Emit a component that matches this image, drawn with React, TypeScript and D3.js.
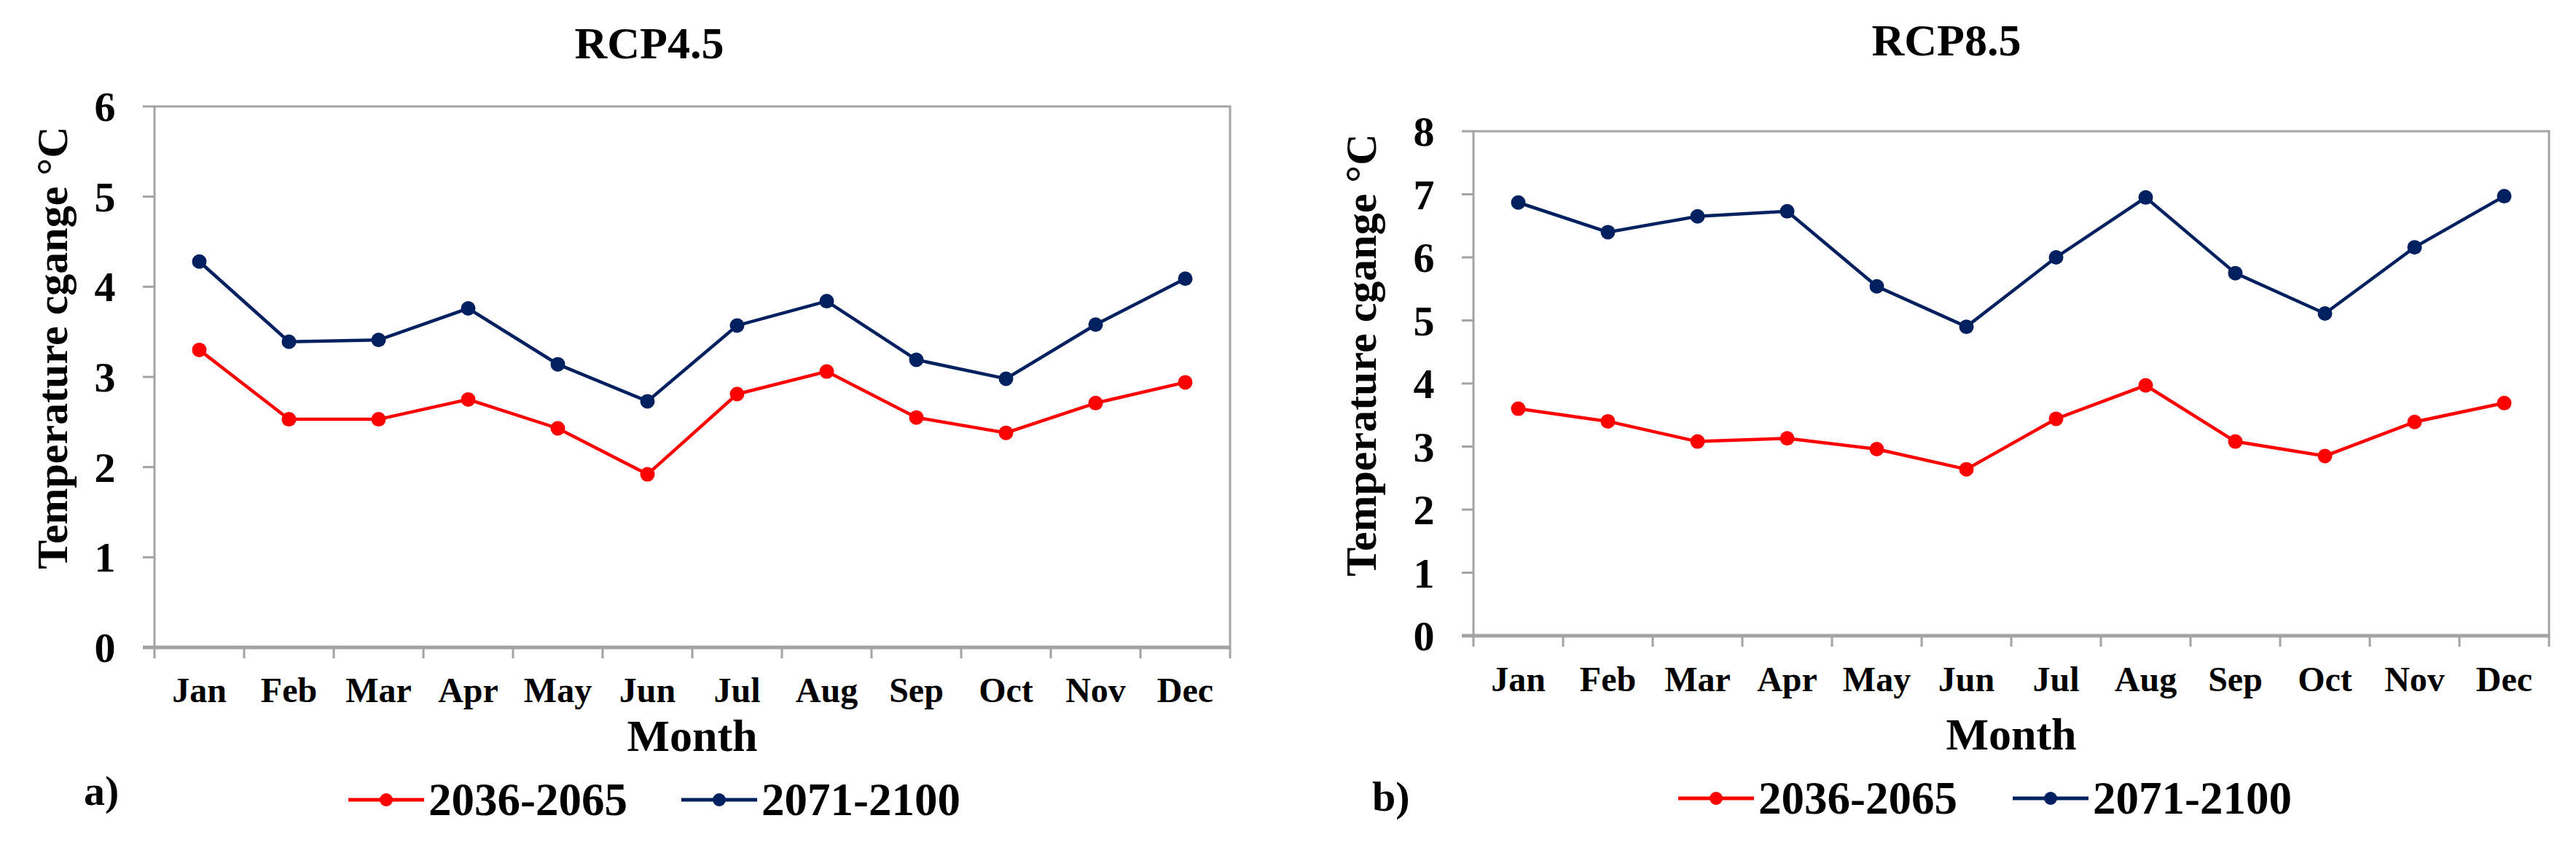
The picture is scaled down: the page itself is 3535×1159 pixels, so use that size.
import * as d3 from 'd3'

// month categories
const months = ['Jan', 'Feb', 'Mar', 'Apr', 'May', 'Jun', 'Jul', 'Aug', 'Sep', 'Oct', 'Nov', 'Dec']
const seriesNames = ['2036-2065', '2071-2100']

// RCP4.5 temperature change (°C)
const rcp45Near = [3.3, 2.53, 2.53, 2.75, 2.43, 1.92, 2.81, 3.06, 2.55, 2.38, 2.71, 2.94]
const rcp45Far = [4.28, 3.39, 3.41, 3.76, 3.14, 2.73, 3.57, 3.84, 3.19, 2.98, 3.58, 4.09]
const rcp45Ticks = [0, 1, 2, 3, 4, 5, 6]

// RCP8.5 temperature change (°C)
const rcp85Near = [3.6, 3.4, 3.08, 3.13, 2.96, 2.64, 3.44, 3.97, 3.08, 2.85, 3.39, 3.69]
const rcp85Far = [6.87, 6.4, 6.65, 6.73, 5.54, 4.9, 6.0, 6.95, 5.75, 5.11, 6.16, 6.97]
const rcp85Ticks = [0, 1, 2, 3, 4, 5, 6, 7, 8]

const RED = '#ff0000'
const NAVY = '#002060'
const GREY = '#a3a3a3'
const FONT = '"Liberation Serif", "Times New Roman", serif'

type PanelProps = {
  title: string
  tag: string
  near: number[]
  far: number[]
  ticks: number[]
  left: number
  right: number
  top: number
  bottom: number
  titleX: number
  titleY: number
  yTitleX: number
  yTitleY: number
  monthY: number
  monthTitleY: number
  tagX: number
  tagY: number
  legendX: number[]
  legendY: number
}

const Panel = (p: PanelProps) => {
  const x = d3.scaleBand<string>().domain(months).range([p.left, p.right])
  const y = d3
    .scaleLinear()
    .domain([0, d3.max(p.ticks) as number])
    .range([p.bottom, p.top])
  const cx = (i: number) => (x(months[i]) as number) + x.bandwidth() / 2

  const line = d3
    .line<number>()
    .x((_, i) => cx(i))
    .y((d) => y(d))

  const series = [
    { name: seriesNames[0], values: p.near, color: RED },
    { name: seriesNames[1], values: p.far, color: NAVY },
  ]
  const edges = months.map((m) => x(m) as number).concat([p.right])

  return (
    <g>
      <text x={p.titleX} y={p.titleY} textAnchor="middle" fontSize={62} fontWeight="bold">
        {p.title}
      </text>

      {/* frame */}
      <rect
        x={p.left}
        y={p.top}
        width={p.right - p.left}
        height={p.bottom - p.top}
        fill="none"
        stroke={GREY}
        strokeWidth={3}
      />
      <line x1={p.left - 16} x2={p.right} y1={p.bottom} y2={p.bottom} stroke={GREY} strokeWidth={5} />

      {/* y ticks */}
      {p.ticks.map((t) => (
        <g key={t}>
          <line x1={p.left - 16} x2={p.left} y1={y(t)} y2={y(t)} stroke={GREY} strokeWidth={3} />
          <text x={p.left - 68} y={y(t) + 20} textAnchor="middle" fontSize={58} fontWeight="bold">
            {t}
          </text>
        </g>
      ))}

      {/* x ticks */}
      {edges.map((e, i) => (
        <line key={i} x1={e} x2={e} y1={p.bottom} y2={p.bottom + 15} stroke={GREY} strokeWidth={3} />
      ))}
      {months.map((m, i) => (
        <text key={m} x={cx(i)} y={p.monthY} textAnchor="middle" fontSize={48} fontWeight="bold">
          {m}
        </text>
      ))}

      <text
        x={(p.left + p.right) / 2}
        y={p.monthTitleY}
        textAnchor="middle"
        fontSize={62}
        fontWeight="bold"
      >
        Month
      </text>
      <text
        transform={`translate(${p.yTitleX},${p.yTitleY}) rotate(-90)`}
        textAnchor="middle"
        fontSize={60}
        fontWeight="bold"
      >
        Temperature cgange °C
      </text>

      {/* series */}
      {series.map((s) => (
        <g key={s.name}>
          <path d={line(s.values) as string} fill="none" stroke={s.color} strokeWidth={4.5} />
          {s.values.map((v, i) => (
            <circle key={i} cx={cx(i)} cy={y(v)} r={10} fill={s.color} />
          ))}
        </g>
      ))}

      <text x={p.tagX} y={p.tagY} fontSize={58} fontWeight="bold">
        {p.tag}
      </text>

      {/* legend */}
      {series.map((s, i) => (
        <g key={s.name} transform={`translate(${p.legendX[i]},${p.legendY})`}>
          <line x1={0} x2={104} y1={0} y2={0} stroke={s.color} strokeWidth={5} />
          <circle cx={52} cy={0} r={9} fill={s.color} />
          <text x={110} y={21} fontSize={63} fontWeight="bold">
            {s.name}
          </text>
        </g>
      ))}
    </g>
  )
}

export default function App() {
  return (
    <svg
      width={3535}
      height={1159}
      style={{ position: 'absolute', left: 0, top: 0, background: '#fff' }}
      fontFamily={FONT}
    >
      <rect width={3535} height={1159} fill="#fff" />
      <Panel
        title="RCP4.5"
        tag="a)"
        near={rcp45Near}
        far={rcp45Far}
        ticks={rcp45Ticks}
        left={212}
        right={1688}
        top={146}
        bottom={888}
        titleX={891}
        titleY={80}
        yTitleX={92}
        yTitleY={477}
        monthY={963}
        monthTitleY={1030}
        tagX={115}
        tagY={1104}
        legendX={[478, 935]}
        legendY={1097}
      />
      <Panel
        title="RCP8.5"
        tag="b)"
        near={rcp85Near}
        far={rcp85Far}
        ticks={rcp85Ticks}
        left={2022}
        right={3498}
        top={180}
        bottom={872}
        titleX={2671}
        titleY={76}
        yTitleX={1888}
        yTitleY={487}
        monthY={948}
        monthTitleY={1028}
        tagX={1883}
        tagY={1112}
        legendX={[2303, 2762]}
        legendY={1095}
      />
    </svg>
  )
}
